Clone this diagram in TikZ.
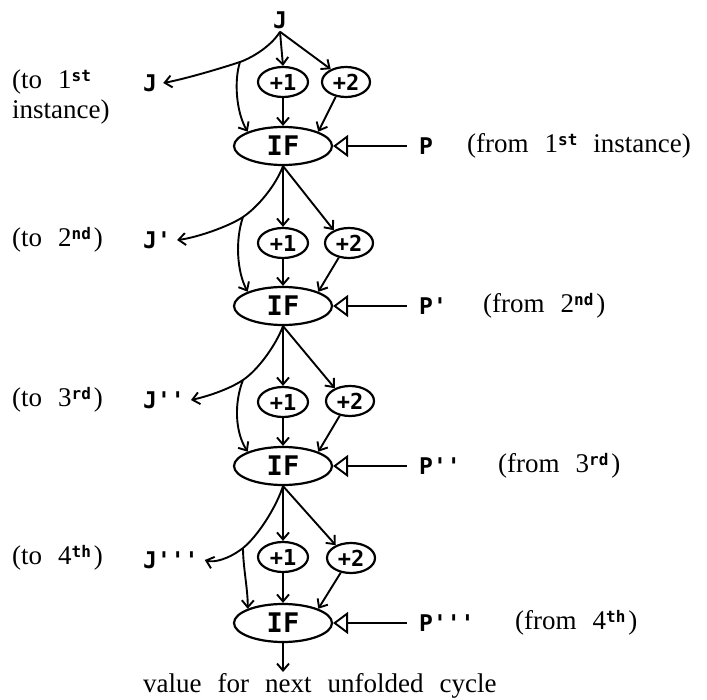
\documentclass[tikz,border=0pt]{standalone}
\usepackage{fontspec}
\setmainfont{Liberation Serif}
\newfontfamily\labf{DejaVu Sans Mono}[Ligatures=TeXOff]
\usetikzlibrary{arrows.meta,shapes.geometric}
\newcommand\ordsup[1]{\raisebox{7pt}{\labf\bfseries\fontsize{16}{16}\selectfont #1}}
\newcommand\widesp{\spaceskip=16pt plus 3pt\relax}
\begin{document}
\begin{tikzpicture}[x=1pt,y=-1pt,
  ln/.style={line width=1.9pt},
  arr/.style={ln,-{Straight Barb[length=7pt,width=12pt]}},
  tri/.style={ln,shorten <=12pt,-{Triangle[open,length=15pt,width=22pt,line width=1.9pt]}},
  ifnode/.style={ellipse,draw,line width=2.2pt,minimum width=98pt,minimum height=38pt,inner sep=0pt,font=\labf\bfseries\fontsize{27}{27}\selectfont},
  ponenode/.style={ellipse,draw,line width=2.2pt,minimum width=50pt,minimum height=30pt,inner sep=0pt,font=\labf\bfseries\fontsize{22}{22}\selectfont},
  ptwonode/.style={ellipse,draw,line width=2.2pt,minimum width=48pt,minimum height=30pt,inner sep=0pt,font=\labf\bfseries\fontsize{22}{22}\selectfont},
  varlab/.style={font=\labf\bfseries\fontsize{23}{23}\selectfont,inner ysep=3pt,inner xsep=6pt},
  plab/.style={font=\labf\bfseries\fontsize{23}{23}\selectfont,inner sep=0pt,anchor=west},
  txt/.style={font=\fontsize{27}{30}\selectfont\widesp,inner sep=0pt,anchor=west,align=left}
]
\useasboundingbox (0,0) rectangle (707,700);

% ---- nodes
\node[varlab] (J0) at (280,20) {J};
\node[ifnode] (if1) at (283,146) {IF};
\node[ifnode] (if2) at (283,306) {IF};
\node[ifnode] (if3) at (283,466) {IF};
\node[ifnode] (if4) at (283,623) {IF};
\node[ponenode] (pa1) at (283,82) {+1};
\node[ponenode] (pa2) at (283,243) {+1};
\node[ponenode] (pa3) at (283,402) {+1};
\node[ponenode] (pa4) at (283,557) {+1};
\node[ptwonode] (pb1) at (346,82) {+2};
\node[ptwonode] (pb2) at (349,243) {+2};
\node[ptwonode] (pb3) at (350,401) {+2};
\node[ptwonode] (pb4) at (351,558) {+2};

\node[varlab,anchor=west] (J1) at (137,83) {J};
\node[varlab,anchor=west] (J2) at (137,240) {J'};
\node[varlab,anchor=west] (J3) at (137,400) {J''};
\node[varlab,anchor=west] (J4) at (137,560) {J'''};

\node[plab] (P1) at (419,146) {P};
\node[plab] (P2) at (419,306) {P'};
\node[plab] (P3) at (419,466) {P''};
\node[plab] (P4) at (419,623) {P'''};

\node[txt] (t1) at (12,97) {(to 1\ordsup{st}\\instance)};
\node[txt] (t2) at (12,240) {(to 2\ordsup{nd}\hspace{3pt})};
\node[txt] (t3) at (12,400) {(to 3\ordsup{rd}\hspace{3pt})};
\node[txt] (t4) at (12,558) {(to 4\ordsup{th}\hspace{3pt})};

\node[txt] (f1) at (467,146) {(from 1\ordsup{st} instance)};
\node[txt] (f2) at (483,306) {(from 2\ordsup{nd}\hspace{3pt})};
\node[txt] (f3) at (498,466) {(from 3\ordsup{rd}\hspace{3pt})};
\node[txt] (f4) at (515,623) {(from 4\ordsup{th}\hspace{3pt})};

\coordinate (B1) at (240,62);
\coordinate (B2) at (243,217);
\coordinate (B3) at (243,380);
\coordinate (B4) at (243,548);
\coordinate (out) at (283,672);
\node[txt,anchor=base west] (val) at (143,692) {value for next unfolded cycle};

% ---- block 1
\draw[arr] (J0.south) -- (pa1.north);
\draw[arr] (J0.south) -- (pb1.140);
\draw[ln] (J0.south) .. controls (272,45) and (254,57) .. (B1);
\draw[arr] (B1) .. controls (222,68) and (185,79) .. (J1.east);
\draw[arr] (B1) .. controls (234,80) and (236,112) .. (if1.158);
\draw[arr] (pa1.south) -- (if1.north);
\draw[arr] (pb1.235) -- (if1.22);
\draw[tri] (P1.west) -- (if1.east);

% ---- block 2
\draw[arr] (if1.south) -- (pa2.north);
\draw[arr] (if1.south) -- (pb2.140);
\draw[ln] (if1.south) .. controls (276,185) and (258,207) .. (B2);
\draw[arr] (B2) .. controls (228,227) and (195,238) .. (J2.east);
\draw[arr] (B2) .. controls (235,240) and (237,272) .. (if2.158);
\draw[arr] (pa2.south) -- (if2.north);
\draw[arr] (pb2.235) -- (if2.22);
\draw[tri] (P2.west) -- (if2.east);

% ---- block 3
\draw[arr] (if2.south) -- (pa3.north);
\draw[arr] (if2.south) -- (pb3.140);
\draw[ln] (if2.south) .. controls (276,345) and (258,370) .. (B3);
\draw[arr] (B3) .. controls (228,390) and (205,397) .. (J3.east);
\draw[arr] (B3) .. controls (234,403) and (235,432) .. (if3.158);
\draw[arr] (pa3.south) -- (if3.north);
\draw[arr] (pb3.235) -- (if3.22);
\draw[tri] (P3.west) -- (if3.east);

% ---- block 4
\draw[arr] (if3.south) -- (pa4.north);
\draw[arr] (if3.south) -- (pb4.140);
\draw[ln] (if3.south) .. controls (276,508) and (257,537) .. (B4);
\draw[arr] (B4) .. controls (229,559) and (214,563) .. (J4.east);
\draw[arr] (B4) .. controls (243,567) and (248,590) .. (if4.158);
\draw[arr] (pa4.south) -- (if4.north);
\draw[arr] (pb4.235) -- (if4.22);
\draw[tri] (P4.west) -- (if4.east);

\draw[arr] (if4.south) -- (out);
\end{tikzpicture}
\end{document}
